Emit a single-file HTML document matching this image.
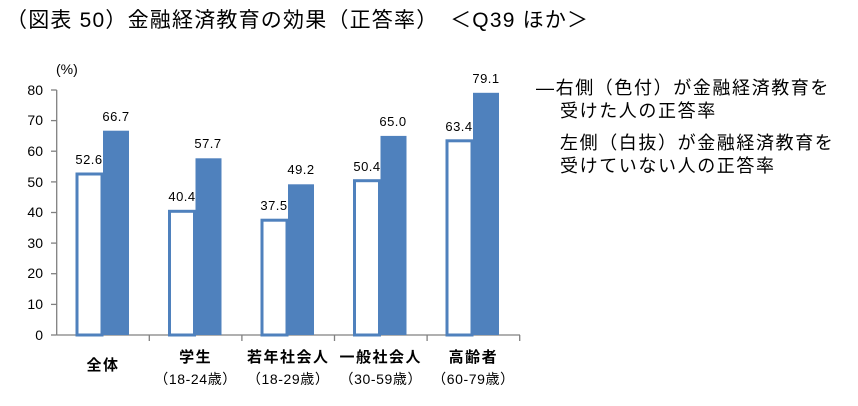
<!DOCTYPE html>
<html><head><meta charset="utf-8"><style>
body{margin:0;background:#fff;}
svg{font-family:"Liberation Sans","Noto Sans CJK JP",sans-serif;}
</style></head><body>
<svg width="858" height="401" viewBox="0 0 858 401">
<text x="6" y="27" font-size="21" letter-spacing="1.2" fill="#000">（図表 50）金融経済教育の効果（正答率）　＜Q39 ほか＞</text>
<text x="56" y="74" font-size="14" fill="#000">(%)</text>
<g font-size="14" fill="#000" text-anchor="end">
<text x="43" y="95">80</text><text x="43" y="125">70</text><text x="43" y="156">60</text><text x="43" y="187">50</text><text x="43" y="217">40</text><text x="43" y="248">30</text><text x="43" y="278">20</text><text x="43" y="309">10</text><text x="43" y="340">0</text>
</g>
<g stroke="#808080" stroke-width="1.3">
<line x1="56.7" y1="90" x2="56.7" y2="335"/>
<line x1="56.7" y1="335" x2="520" y2="335"/>
<line x1="51" y1="90" x2="56.7" y2="90"/><line x1="51" y1="120.6" x2="56.7" y2="120.6"/><line x1="51" y1="151.2" x2="56.7" y2="151.2"/><line x1="51" y1="181.9" x2="56.7" y2="181.9"/><line x1="51" y1="212.5" x2="56.7" y2="212.5"/><line x1="51" y1="243.1" x2="56.7" y2="243.1"/><line x1="51" y1="273.7" x2="56.7" y2="273.7"/><line x1="51" y1="304.4" x2="56.7" y2="304.4"/><line x1="51" y1="335" x2="56.7" y2="335"/>
<line x1="149.3" y1="335" x2="149.3" y2="341"/><line x1="241.9" y1="335" x2="241.9" y2="341"/><line x1="334.5" y1="335" x2="334.5" y2="341"/><line x1="427.1" y1="335" x2="427.1" y2="341"/><line x1="519.7" y1="335" x2="519.7" y2="341"/>
</g>
<g fill="#fff" stroke="#4F81BD" stroke-width="3">
<rect x="77" y="174" width="25" height="161"/>
<rect x="169.5" y="211.3" width="25" height="123.7"/>
<rect x="262" y="220.2" width="25" height="114.8"/>
<rect x="354.5" y="180.7" width="25" height="154.3"/>
<rect x="447" y="140.8" width="25" height="194.2"/>
</g>
<g fill="#4F81BD">
<rect x="103" y="130.7" width="26" height="204.3"/>
<rect x="195.5" y="158.3" width="26" height="176.7"/>
<rect x="288" y="184.3" width="26" height="150.7"/>
<rect x="380.5" y="135.9" width="26" height="199.1"/>
<rect x="473" y="92.8" width="26" height="242.2"/>
</g>
<g font-size="13" fill="#000" text-anchor="middle" letter-spacing="0.5">
<text x="89" y="164">52.6</text><text x="116" y="121">66.7</text>
<text x="182" y="201">40.4</text><text x="208" y="148">57.7</text>
<text x="274" y="210">37.5</text><text x="301" y="174">49.2</text>
<text x="367" y="171">50.4</text><text x="393" y="126">65.0</text>
<text x="459" y="131">63.4</text><text x="486" y="83">79.1</text>
</g>
<g font-size="15" font-weight="bold" fill="#000" text-anchor="middle" letter-spacing="1.5">
<text x="103" y="370">全体</text>
<text x="195.6" y="362">学生</text>
<text x="288.2" y="362">若年社会人</text>
<text x="380.8" y="362">一般社会人</text>
<text x="473.4" y="362">高齢者</text>
</g>
<g font-size="14" fill="#000" text-anchor="middle" letter-spacing="0.6">
<text x="195.6" y="384">（18-24歳）</text>
<text x="288.2" y="384">（18-29歳）</text>
<text x="380.8" y="384">（30-59歳）</text>
<text x="473.4" y="384">（60-79歳）</text>
</g>
<g font-size="18" fill="#000" letter-spacing="1.6">
<text x="536" y="94">―右側（色付）が金融経済教育を</text>
<text x="560" y="117">受けた人の正答率</text>
<text x="560" y="149">左側（白抜）が金融経済教育を</text>
<text x="560" y="172">受けていない人の正答率</text>
</g>
</svg>
</body></html>
